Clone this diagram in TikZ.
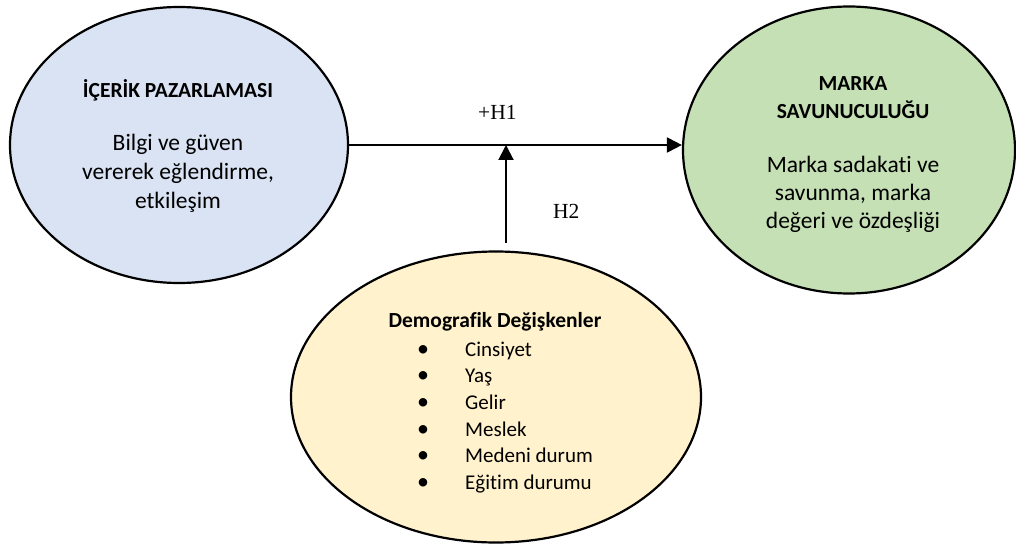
\documentclass[tikz,border=0pt]{standalone}
\usepackage{fontspec}
\setmainfont{Carlito}[Ligatures=NoCommon]
\newfontfamily\timesf{Liberation Serif}
\usetikzlibrary{shapes.geometric,arrows.meta}
\definecolor{lblue}{HTML}{DAE3F3}
\definecolor{lgreen}{HTML}{C5E0B4}
\definecolor{lyellow}{HTML}{FFF2CC}
\begin{document}
\begin{tikzpicture}[x=1pt,y=-1pt,
  ell/.style={ellipse,draw=black,line width=2.2pt,inner sep=0pt},
  arr/.style={line width=2pt,-{Triangle[length=15pt,width=15pt]}},
  ttl/.style={anchor=base,inner sep=0pt,font=\fontsize{21.5}{26}\selectfont\bfseries},
  body/.style={anchor=base,inner sep=0pt,font=\fontsize{23.5}{29}\selectfont},
  item/.style={anchor=base west,inner sep=0pt,font=\fontsize{21}{26}\selectfont},
  hyp/.style={anchor=base west,inner sep=0pt,font=\fontsize{21.5}{26}\timesf}]
\useasboundingbox (0,0) rectangle (1016,548);
\node[ell,fill=lblue,minimum width=338pt,minimum height=276pt] (L) at (179,145) {};
\node[ell,fill=lgreen,minimum width=332pt,minimum height=287pt] (R) at (849,150) {};
\node[ell,fill=lyellow,minimum width=410pt,minimum height=291pt] (B) at (496,397) {};
% left texts
\node[ttl] (lt) at (178,98) {İÇERİK PAZARLAMASI};
\node[body] (l1) at (178,150) {Bilgi ve güven};
\node[body] (l2) at (178,179) {vererek eğlendirme,};
\node[body] (l3) at (178,208) {etkileşim};
% right texts
\node[ttl] (rt1) at (853,91) {MARKA};
\node[ttl] (rt2) at (853,119) {SAVUNUCULUĞU};
\node[body] (r1) at (853,172) {Marka sadakati ve};
\node[body] (r2) at (853,200) {savunma, marka};
\node[body] (r3) at (853,228) {değeri ve özdeşliği};
% bottom texts
\node[ttl] (bt) at (495,327) {Demografik Değişkenler};
\foreach \t [count=\i] in {Cinsiyet,Yaş,Gelir,Meslek,Medeni durum,Eğitim durumu}{
  \node[item] (b\i) at (413,{356+(\i-1)*26.7}) {\makebox[20pt][c]{\fontsize{24}{26}\selectfont•}\hspace{32pt}\t};
}
% connectors
\coordinate (v0) at (506,243);
\draw[arr] (L.east) -- (R.west |- L.east);
\draw[arr] (v0) -- (v0 |- L.east);
\node[hyp] (h1) at (478,120) {+H1};
\node[hyp] (h2) at (553,218) {H2};
\end{tikzpicture}
\end{document}
